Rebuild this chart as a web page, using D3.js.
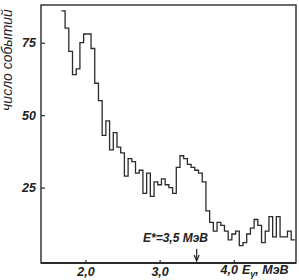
<!DOCTYPE html>
<html>
<head>
<meta charset="utf-8">
<script src="https://cdn.jsdelivr.net/npm/d3@7"></script>
<style>
  body { margin: 0; background: #fff; }
  svg { display: block; }
  text { font-family: "Liberation Sans", Arial, sans-serif; fill: #222; }
</style>
</head>
<body>
<svg id="chart"></svg>
<script>
// Histogram counts (bins of 0.05 MeV starting at 1.675 MeV)
const binStart = 1.675;
const binWidth = 0.05;
const counts = [
  86, 80, 72, 64, 66, 75, 78, 78, 73, 61,
  55, 43, 48, 38, 44, 39, 37, 29, 35, 34,
  30, 31, 23, 30, 22, 27, 26, 28, 26, 25,
  23, 32, 36, 35, 33, 32, 31, 30, 27, 17,
  13, 10, 13, 12, 10, 7, 9, 10, 5, 6,
  9, 11, 14, 12, 6, 10, 15, 8, 15, 8,
  8, 10, 7
];

// Tick values
const yTicks = [25, 50, 75];
const xTicks = [2.0, 3.0, 4.0];
const markerE = 3.5;

// Global sizes
const width = 299;
const height = 280;
const frame = {left: 41, right: 296, top: 5, bottom: 263};

const svg = d3.select('#chart')
  .attr('width', width).attr('height', height);

// Scales
const x = d3.scaleLinear().domain([1.4, 4.84]).range([frame.left, frame.right]);
const y = d3.scaleLinear().domain([-1, 88]).range([frame.bottom, frame.top]);

// Frame around the plot
svg.append('rect')
  .attr('x', frame.left).attr('y', frame.top)
  .attr('width', frame.right - frame.left)
  .attr('height', frame.bottom - frame.top)
  .attr('fill', 'none').attr('stroke', '#2a2a2a').attr('stroke-width', 1.4);
svg.append('line')
  .attr('x1', frame.left).attr('x2', frame.right)
  .attr('y1', frame.bottom).attr('y2', frame.bottom)
  .attr('stroke', '#2a2a2a').attr('stroke-width', 2);

// Y axis (ticks pointing inwards)
const yAxis = svg.append('g')
  .attr('transform', `translate(${frame.left},0)`)
  .call(d3.axisLeft(y).tickValues(yTicks).tickSize(-4).tickPadding(5).tickFormat(d3.format('d')));
yAxis.select('.domain').remove();
yAxis.selectAll('line').attr('stroke', '#2a2a2a').attr('stroke-width', 1.2);
yAxis.selectAll('text')
  .attr('font-size', 12.5).attr('font-style', 'italic').attr('font-weight', 'bold')
  .attr('font-family', '"Liberation Sans", Arial, sans-serif').attr('fill', '#222');

// X axis
const xAxis = svg.append('g')
  .attr('transform', `translate(0,${frame.bottom})`)
  .call(d3.axisBottom(x).tickValues(xTicks).tickSize(-3).tickPadding(4)
    .tickFormat(d => d3.format('.1f')(d).replace('.', ',')));
xAxis.select('.domain').remove();
xAxis.selectAll('line').attr('stroke', '#2a2a2a').attr('stroke-width', 1.2);
xAxis.selectAll('text')
  .attr('font-size', 12.5).attr('font-style', 'italic').attr('font-weight', 'bold')
  .attr('font-family', '"Liberation Sans", Arial, sans-serif').attr('fill', '#222');
// the last label sits a bit left and up, next to the axis title
xAxis.selectAll('.tick').filter(d => d === 4.0).select('text')
  .attr('dx', -5).attr('y', 2);

// Step line of the histogram
const points = counts.map((c, i) => [binStart + i * binWidth, c]);
points.push([binStart + counts.length * binWidth, counts[counts.length - 1]]);
const step = d3.line().x(d => x(d[0])).y(d => y(d[1])).curve(d3.curveStepAfter);

svg.append('path')
  .attr('d', step(points))
  .attr('fill', 'none')
  .attr('stroke', '#2b2b2b')
  .attr('stroke-width', 1.3);

// Axis titles
svg.append('text')
  .attr('transform', 'translate(12,60) rotate(-90)')
  .attr('text-anchor', 'middle')
  .attr('font-size', 14).attr('font-style', 'italic')
  .text('число событий');

const xTitle = svg.append('text')
  .attr('x', 242).attr('y', 274)
  .attr('font-size', 12.5).attr('font-style', 'italic').attr('font-weight', 'bold');
xTitle.append('tspan').text('E');
xTitle.append('tspan').attr('font-size', 9).attr('dy', 3).text('γ');
xTitle.append('tspan').attr('dy', -3).text(', МэВ');

// Marker for E* = 3,5 MeV
svg.append('text')
  .attr('x', 143).attr('y', 242)
  .attr('font-size', 12).attr('font-style', 'italic').attr('font-weight', 'bold')
  .text('E*=3,5 МэВ');

svg.append('line')
  .attr('x1', x(markerE)).attr('x2', x(markerE))
  .attr('y1', 249).attr('y2', 260)
  .attr('stroke', '#222').attr('stroke-width', 1.2);
svg.append('path')
  .attr('d', `M${x(markerE) - 2.5},${255} L${x(markerE)},${261} L${x(markerE) + 2.5},${255}`)
  .attr('fill', 'none').attr('stroke', '#222').attr('stroke-width', 1.2);
</script>
</body>
</html>
